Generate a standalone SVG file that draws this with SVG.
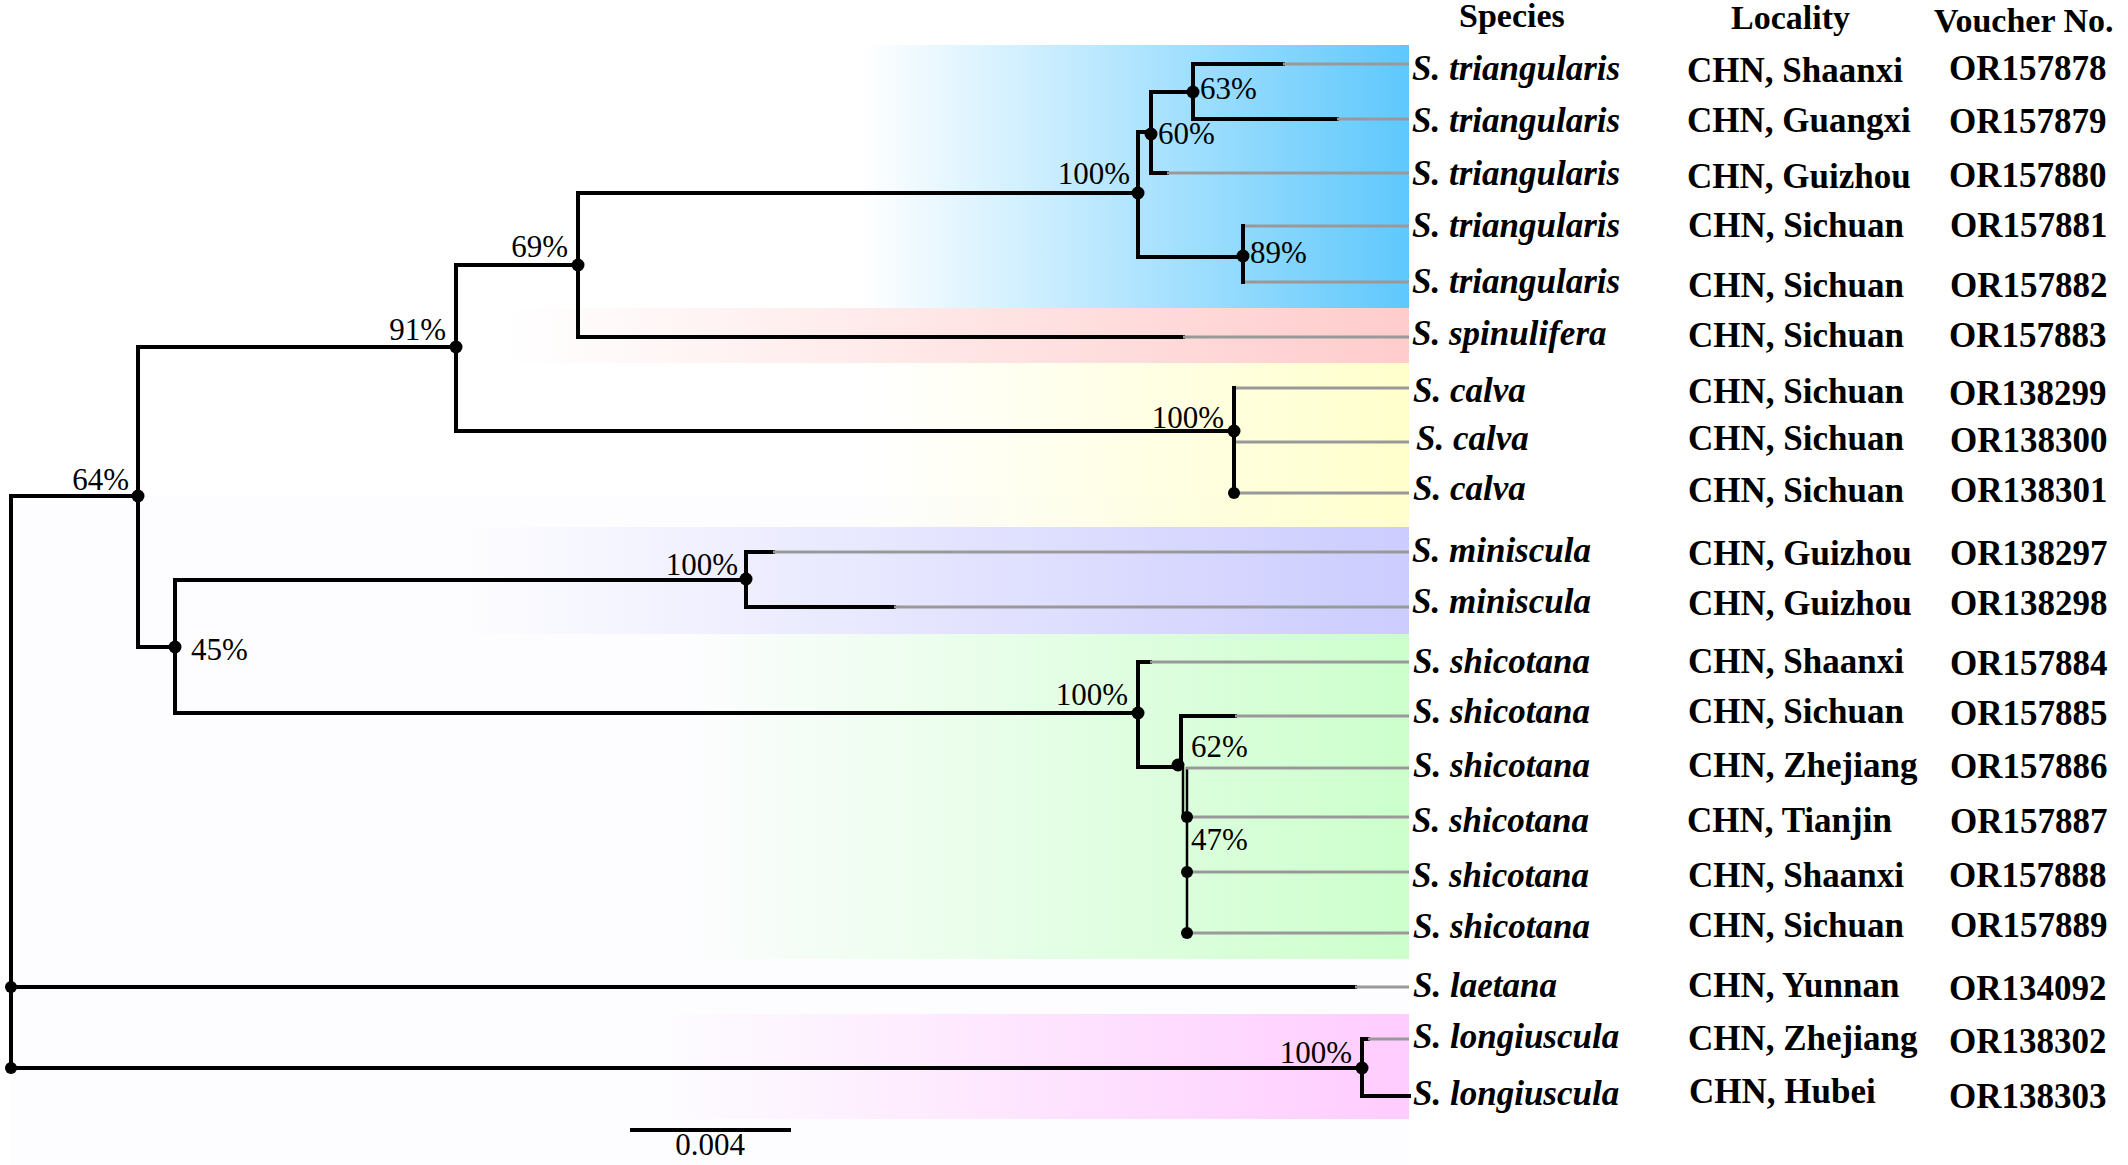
<svg xmlns="http://www.w3.org/2000/svg" width="2128" height="1165" viewBox="0 0 2128 1165">
<style>
.br{fill:none;stroke:#000;stroke-width:4;stroke-linecap:square}
.thin{fill:none;stroke:#000;stroke-width:2.5}
.lf{fill:none;stroke:#999;stroke-width:3}
.dot{fill:#000}
.bs{font-family:"Liberation Serif","Times New Roman",serif;font-size:31px;fill:#000}
.sp{font-family:"Liberation Serif","Times New Roman",serif;font-size:35px;font-weight:bold;font-style:italic;fill:#000}
.loc,.vn{font-family:"Liberation Serif","Times New Roman",serif;font-size:35px;font-weight:bold;fill:#000}
.hd{font-family:"Liberation Serif","Times New Roman",serif;font-size:34px;font-weight:bold;fill:#000}
</style>
<defs>
<linearGradient id="gBlue" gradientUnits="userSpaceOnUse" x1="860" y1="0" x2="1409" y2="0"><stop offset="0" stop-color="#66ccff" stop-opacity="0"/><stop offset="1" stop-color="#5ec8fc"/></linearGradient>
<linearGradient id="gPink" gradientUnits="userSpaceOnUse" x1="505" y1="0" x2="1409" y2="0"><stop offset="0" stop-color="#ffcccc" stop-opacity="0"/><stop offset="1" stop-color="#ffcccc"/></linearGradient>
<linearGradient id="gYellow" gradientUnits="userSpaceOnUse" x1="860" y1="0" x2="1409" y2="0"><stop offset="0" stop-color="#ffffcc" stop-opacity="0"/><stop offset="1" stop-color="#ffffcc"/></linearGradient>
<linearGradient id="gLav" gradientUnits="userSpaceOnUse" x1="460" y1="0" x2="1409" y2="0"><stop offset="0" stop-color="#ccccff" stop-opacity="0"/><stop offset="1" stop-color="#ccccff"/></linearGradient>
<linearGradient id="gGreen" gradientUnits="userSpaceOnUse" x1="680" y1="0" x2="1409" y2="0"><stop offset="0" stop-color="#ccffcc" stop-opacity="0"/><stop offset="1" stop-color="#ccffcc"/></linearGradient>
<linearGradient id="gMag" gradientUnits="userSpaceOnUse" x1="650" y1="0" x2="1409" y2="0"><stop offset="0" stop-color="#ffccff" stop-opacity="0"/><stop offset="1" stop-color="#ffccff"/></linearGradient>
</defs>
<rect width="2128" height="1165" fill="#ffffff"/>
<g id="bands">
<rect x="11" y="496" width="1398" height="669" fill="#fdfdff"/>
<rect x="860" y="45" width="549" height="263" fill="url(#gBlue)"/>
<rect x="505" y="308" width="904" height="55" fill="url(#gPink)"/>
<rect x="860" y="363" width="549" height="164" fill="url(#gYellow)"/>
<rect x="460" y="527" width="949" height="107" fill="url(#gLav)"/>
<rect x="680" y="634" width="729" height="325" fill="url(#gGreen)"/>
<rect x="650" y="1014" width="759" height="105" fill="url(#gMag)"/>
</g>
<g id="connectors">
<path class="br" d="M11 496 V1068 M11 496 H138 M138 347 V647 M138 347 H456 M456 265 V431 M456 265 H578 M578 193 V337 M578 193 H1138 M1138 132 V257 M1138 132 H1151 M1151 92 V173 M1151 92 H1193 M1193 64 V119 M1193 64 H1283 M1193 119 H1337 M1151 173 H1167 M1138 257 H1243 M1243 226 V282 M578 337 H1183 M456 431 H1234 M1234 388 V493 M138 647 H175 M175 580 V713 M175 580 H746 M746 552 V607 M746 552 H773 M746 607 H894 M175 713 H1138 M1138 662 V767 M1138 662 H1150 M1138 767 H1180 M1181 716 V767 M1181 716 H1235 M11 987 H1355 M11 1068 H1362 M1362 1039 V1096 M1362 1039 H1368 M1362 1096 H1409"/>
<path class="thin" d="M1187 767 V933 M1183 767 V817"/>
<path class="lf" d="M1283 64 H1409 M1337 119 H1409 M1167 173 H1409 M1245 226 H1409 M1245 282 H1409 M1183 337 H1409 M1236 388 H1409 M1236 442 H1409 M1236 493 H1409 M773 552 H1409 M894 607 H1409 M1150 662 H1409 M1235 716 H1409 M1186 768 H1409 M1189 817 H1409 M1189 872 H1409 M1189 933 H1409 M1355 987 H1409 M1368 1039 H1409"/>
<path class="br" d="M632 1130 H789"/>
<text class="bs" x="710" y="1155" text-anchor="middle">0.004</text>
</g>
<g id="internal-nodes">
<g id="n-root"><circle class="dot" cx="11" cy="987" r="6"/><circle class="dot" cx="11" cy="1068" r="6"/></g>
<g id="n64"><circle class="dot" cx="138" cy="496" r="6.5"/><text class="bs" x="129" y="490" text-anchor="end">64%</text></g>
<g id="n91"><circle class="dot" cx="456" cy="347" r="6.5"/><text class="bs" x="446" y="340" text-anchor="end">91%</text></g>
<g id="n69"><circle class="dot" cx="578" cy="265" r="6.5"/><text class="bs" x="568" y="257" text-anchor="end">69%</text></g>
<g id="n-tri"><circle class="dot" cx="1138" cy="193" r="6.5"/><text class="bs" x="1130" y="184" text-anchor="end">100%</text></g>
<g id="n60"><circle class="dot" cx="1151" cy="134" r="6.5"/><text class="bs" x="1158" y="144">60%</text></g>
<g id="n63"><circle class="dot" cx="1193" cy="92" r="6.5"/><text class="bs" x="1200" y="99">63%</text></g>
<g id="n89"><circle class="dot" cx="1243" cy="256" r="6.5"/><text class="bs" x="1250" y="263">89%</text></g>
<g id="n-calva"><circle class="dot" cx="1234" cy="431" r="6.5"/><circle class="dot" cx="1234" cy="493" r="6"/><text class="bs" x="1224" y="428" text-anchor="end">100%</text></g>
<g id="n45"><circle class="dot" cx="175" cy="647" r="6.5"/><text class="bs" x="191" y="660">45%</text></g>
<g id="n-mini"><circle class="dot" cx="746" cy="579" r="6.5"/><text class="bs" x="738" y="575" text-anchor="end">100%</text></g>
<g id="n-shi"><circle class="dot" cx="1138" cy="713" r="6.5"/><text class="bs" x="1128" y="705" text-anchor="end">100%</text></g>
<g id="n62"><circle class="dot" cx="1178" cy="765" r="6.5"/><text class="bs" x="1191" y="757">62%</text></g>
<g id="n47"><circle class="dot" cx="1187" cy="817" r="6"/><circle class="dot" cx="1187" cy="872" r="6"/><circle class="dot" cx="1187" cy="933" r="6"/><text class="bs" x="1191" y="850">47%</text></g>
<g id="n-long"><circle class="dot" cx="1362" cy="1068" r="6.5"/><text class="bs" x="1352" y="1063" text-anchor="end">100%</text></g>
</g>
<g id="header">
<text class="hd" x="1459" y="27">Species</text>
<text class="hd" x="1731" y="29">Locality</text>
<text class="hd" x="1934" y="32">Voucher No.</text>
</g>
<g id="taxa">
<g id="t1"><text class="sp" x="1412" y="80">S. triangularis</text><text class="loc" x="1687" y="82">CHN, Shaanxi</text><text class="vn" x="1949" y="80">OR157878</text></g>
<g id="t2"><text class="sp" x="1412" y="132">S. triangularis</text><text class="loc" x="1687" y="132">CHN, Guangxi</text><text class="vn" x="1949" y="133">OR157879</text></g>
<g id="t3"><text class="sp" x="1412" y="185">S. triangularis</text><text class="loc" x="1687" y="188">CHN, Guizhou</text><text class="vn" x="1949" y="187">OR157880</text></g>
<g id="t4"><text class="sp" x="1412" y="237">S. triangularis</text><text class="loc" x="1688" y="237">CHN, Sichuan</text><text class="vn" x="1950" y="237">OR157881</text></g>
<g id="t5"><text class="sp" x="1412" y="293">S. triangularis</text><text class="loc" x="1688" y="297">CHN, Sichuan</text><text class="vn" x="1950" y="297">OR157882</text></g>
<g id="t6"><text class="sp" x="1412" y="345">S. spinulifera</text><text class="loc" x="1688" y="347">CHN, Sichuan</text><text class="vn" x="1949" y="347">OR157883</text></g>
<g id="t7"><text class="sp" x="1413" y="402">S. calva</text><text class="loc" x="1688" y="403">CHN, Sichuan</text><text class="vn" x="1949" y="405">OR138299</text></g>
<g id="t8"><text class="sp" x="1416" y="450">S. calva</text><text class="loc" x="1688" y="450">CHN, Sichuan</text><text class="vn" x="1950" y="452">OR138300</text></g>
<g id="t9"><text class="sp" x="1413" y="500">S. calva</text><text class="loc" x="1688" y="502">CHN, Sichuan</text><text class="vn" x="1950" y="502">OR138301</text></g>
<g id="t10"><text class="sp" x="1412" y="562">S. miniscula</text><text class="loc" x="1688" y="565">CHN, Guizhou</text><text class="vn" x="1950" y="565">OR138297</text></g>
<g id="t11"><text class="sp" x="1412" y="613">S. miniscula</text><text class="loc" x="1688" y="615">CHN, Guizhou</text><text class="vn" x="1950" y="615">OR138298</text></g>
<g id="t12"><text class="sp" x="1413" y="673">S. shicotana</text><text class="loc" x="1688" y="673">CHN, Shaanxi</text><text class="vn" x="1950" y="675">OR157884</text></g>
<g id="t13"><text class="sp" x="1413" y="723">S. shicotana</text><text class="loc" x="1688" y="723">CHN, Sichuan</text><text class="vn" x="1950" y="725">OR157885</text></g>
<g id="t14"><text class="sp" x="1413" y="777">S. shicotana</text><text class="loc" x="1688" y="777">CHN, Zhejiang</text><text class="vn" x="1950" y="778">OR157886</text></g>
<g id="t15"><text class="sp" x="1412" y="832">S. shicotana</text><text class="loc" x="1687" y="832">CHN, Tianjin</text><text class="vn" x="1950" y="833">OR157887</text></g>
<g id="t16"><text class="sp" x="1412" y="887">S. shicotana</text><text class="loc" x="1688" y="887">CHN, Shaanxi</text><text class="vn" x="1949" y="887">OR157888</text></g>
<g id="t17"><text class="sp" x="1413" y="938">S. shicotana</text><text class="loc" x="1688" y="937">CHN, Sichuan</text><text class="vn" x="1950" y="937">OR157889</text></g>
<g id="t18"><text class="sp" x="1413" y="997">S. laetana</text><text class="loc" x="1688" y="997">CHN, Yunnan</text><text class="vn" x="1949" y="1000">OR134092</text></g>
<g id="t19"><text class="sp" x="1413" y="1048">S. longiuscula</text><text class="loc" x="1688" y="1050">CHN, Zhejiang</text><text class="vn" x="1949" y="1053">OR138302</text></g>
<g id="t20"><text class="sp" x="1413" y="1105">S. longiuscula</text><text class="loc" x="1689" y="1103">CHN, Hubei</text><text class="vn" x="1949" y="1108">OR138303</text></g>
</g>
</svg>
